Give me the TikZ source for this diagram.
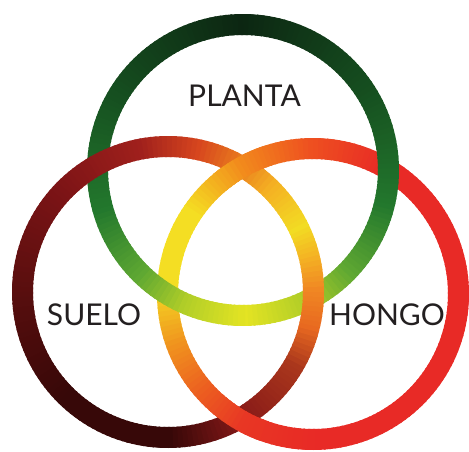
\documentclass[tikz,border=0pt]{standalone}
\usepackage{fontspec}
\newfontfamily\ringfont{Lato}
\usepackage{xcolor}
% fungus ring (right)
\definecolor{fR}{RGB}{232,42,38}
\definecolor{fA}{RGB}{238,80,32}
\definecolor{fB}{RGB}{242,140,28}
\definecolor{fY}{RGB}{244,222,35}
\definecolor{fC}{RGB}{240,145,30}
\definecolor{fD}{RGB}{236,95,32}
\definecolor{fE}{RGB}{232,55,36}
% soil ring (left)
\definecolor{sK}{RGB}{55,8,8}
\definecolor{sD}{RGB}{135,25,24}
\definecolor{sM}{RGB}{170,55,28}
\definecolor{sO}{RGB}{232,105,32}
\definecolor{sP}{RGB}{240,135,35}
\definecolor{sQ}{RGB}{244,175,35}
\definecolor{sY}{RGB}{242,220,35}
\definecolor{sR}{RGB}{232,120,30}
\definecolor{sS}{RGB}{215,70,30}
\definecolor{sT}{RGB}{160,32,28}
\definecolor{sU}{RGB}{125,20,22}
\definecolor{sV}{RGB}{88,14,14}
% plant ring (top)
\definecolor{tY}{RGB}{228,228,35}
\definecolor{tL}{RGB}{175,205,40}
\definecolor{tM}{RGB}{95,168,50}
\definecolor{tG}{RGB}{35,120,45}
\definecolor{tH}{RGB}{22,80,32}
\definecolor{tK}{RGB}{12,38,18}
\definecolor{ink}{RGB}{35,31,32}
\usepackage{tikz}
\usetikzlibrary{calc}
\tikzset{
  band/.style={line width=21pt,line cap=butt},
  ringtext/.style={font=\ringfont\fontsize{30}{30}\selectfont,text=ink,inner sep=0pt},
}
\newcommand\rmid{145.5}
% one stretch of a ring, colour blended from #4 to #5
\newcommand\ringpart[5]{%
  \pgfmathtruncatemacro\nseg{max(1,round((#3-#2)/2))}%
  \foreach \k in {1,...,\nseg}{%
    \pgfmathsetmacro\ang{#2+(#3-#2)*(\k-1)/\nseg}%
    \pgfmathtruncatemacro\pct{100-100*(\k-1)/\nseg}%
    \colorlet{segcol}{#4!\pct!#5}%
    \draw[band,segcol] (#1) ++(\ang:\rmid)
      arc[start angle=\ang,delta angle=(#3-#2)/\nseg+0.8,radius=\rmid];
  }%
}
\newcommand\fungusring{%
  \foreach \a/\b/\ca/\cb in {-90/0/fR/fR,0/60/fR/fR,60/90/fR/fA,90/119/fA/fB,
    119/145/fB/fY,145/175/fY/fY,175/200/fY/fC,200/220/fC/fD,220/240/fD/fE,240/270/fE/fR}
    {\ringpart{fungus}{\a}{\b}{\ca}{\cb}}}

\begin{document}
\begin{tikzpicture}[x=1pt,y=1pt]
\useasboundingbox (0,0) rectangle (469,451);
\coordinate (plant)  at (243,281);
\coordinate (soil)   at (168,159);
\coordinate (fungus) at (313,157);
\coordinate (xtop) at (242,284);
\coordinate (xbot) at (239,32);
% rings, back to front
\fungusring
\foreach \a/\b/\ca/\cb in {-90/-65/tY/tL,-65/-45/tL/tM,-45/-15/tM/tG,-15/30/tG/tH,
  30/90/tH/tK,90/150/tK/tH,150/195/tH/tG,195/225/tG/tM,225/245/tM/tL,245/270/tL/tY}
  {\ringpart{plant}{\a}{\b}{\ca}{\cb}}
\foreach \a/\b/\ca/\cb in {-90/-61/sK/sD,-61/-31/sD/sM,-31/-15/sM/sO,-15/0/sO/sP,
  0/12/sP/sQ,12/25/sQ/sY,25/45/sY/sQ,45/61/sQ/sR,61/77/sR/sS,77/100/sS/sT,
  100/135/sT/sU,135/180/sU/sV,180/225/sV/sK,225/270/sK/sK}
  {\ringpart{soil}{\a}{\b}{\ca}{\cb}}
% fungus passes over soil at both crossings
\begin{scope}
  \clip (xtop) circle (30) (xbot) circle (30);
  \fungusring
\end{scope}
\node[ringtext] (planta) at (244.5,355) {PLANTA};
\node[ringtext] (suelo)  at (94,136)    {SUELO};
\node[ringtext] (hongo)  at (387,136)   {HONGO};
\end{tikzpicture}
\end{document}
